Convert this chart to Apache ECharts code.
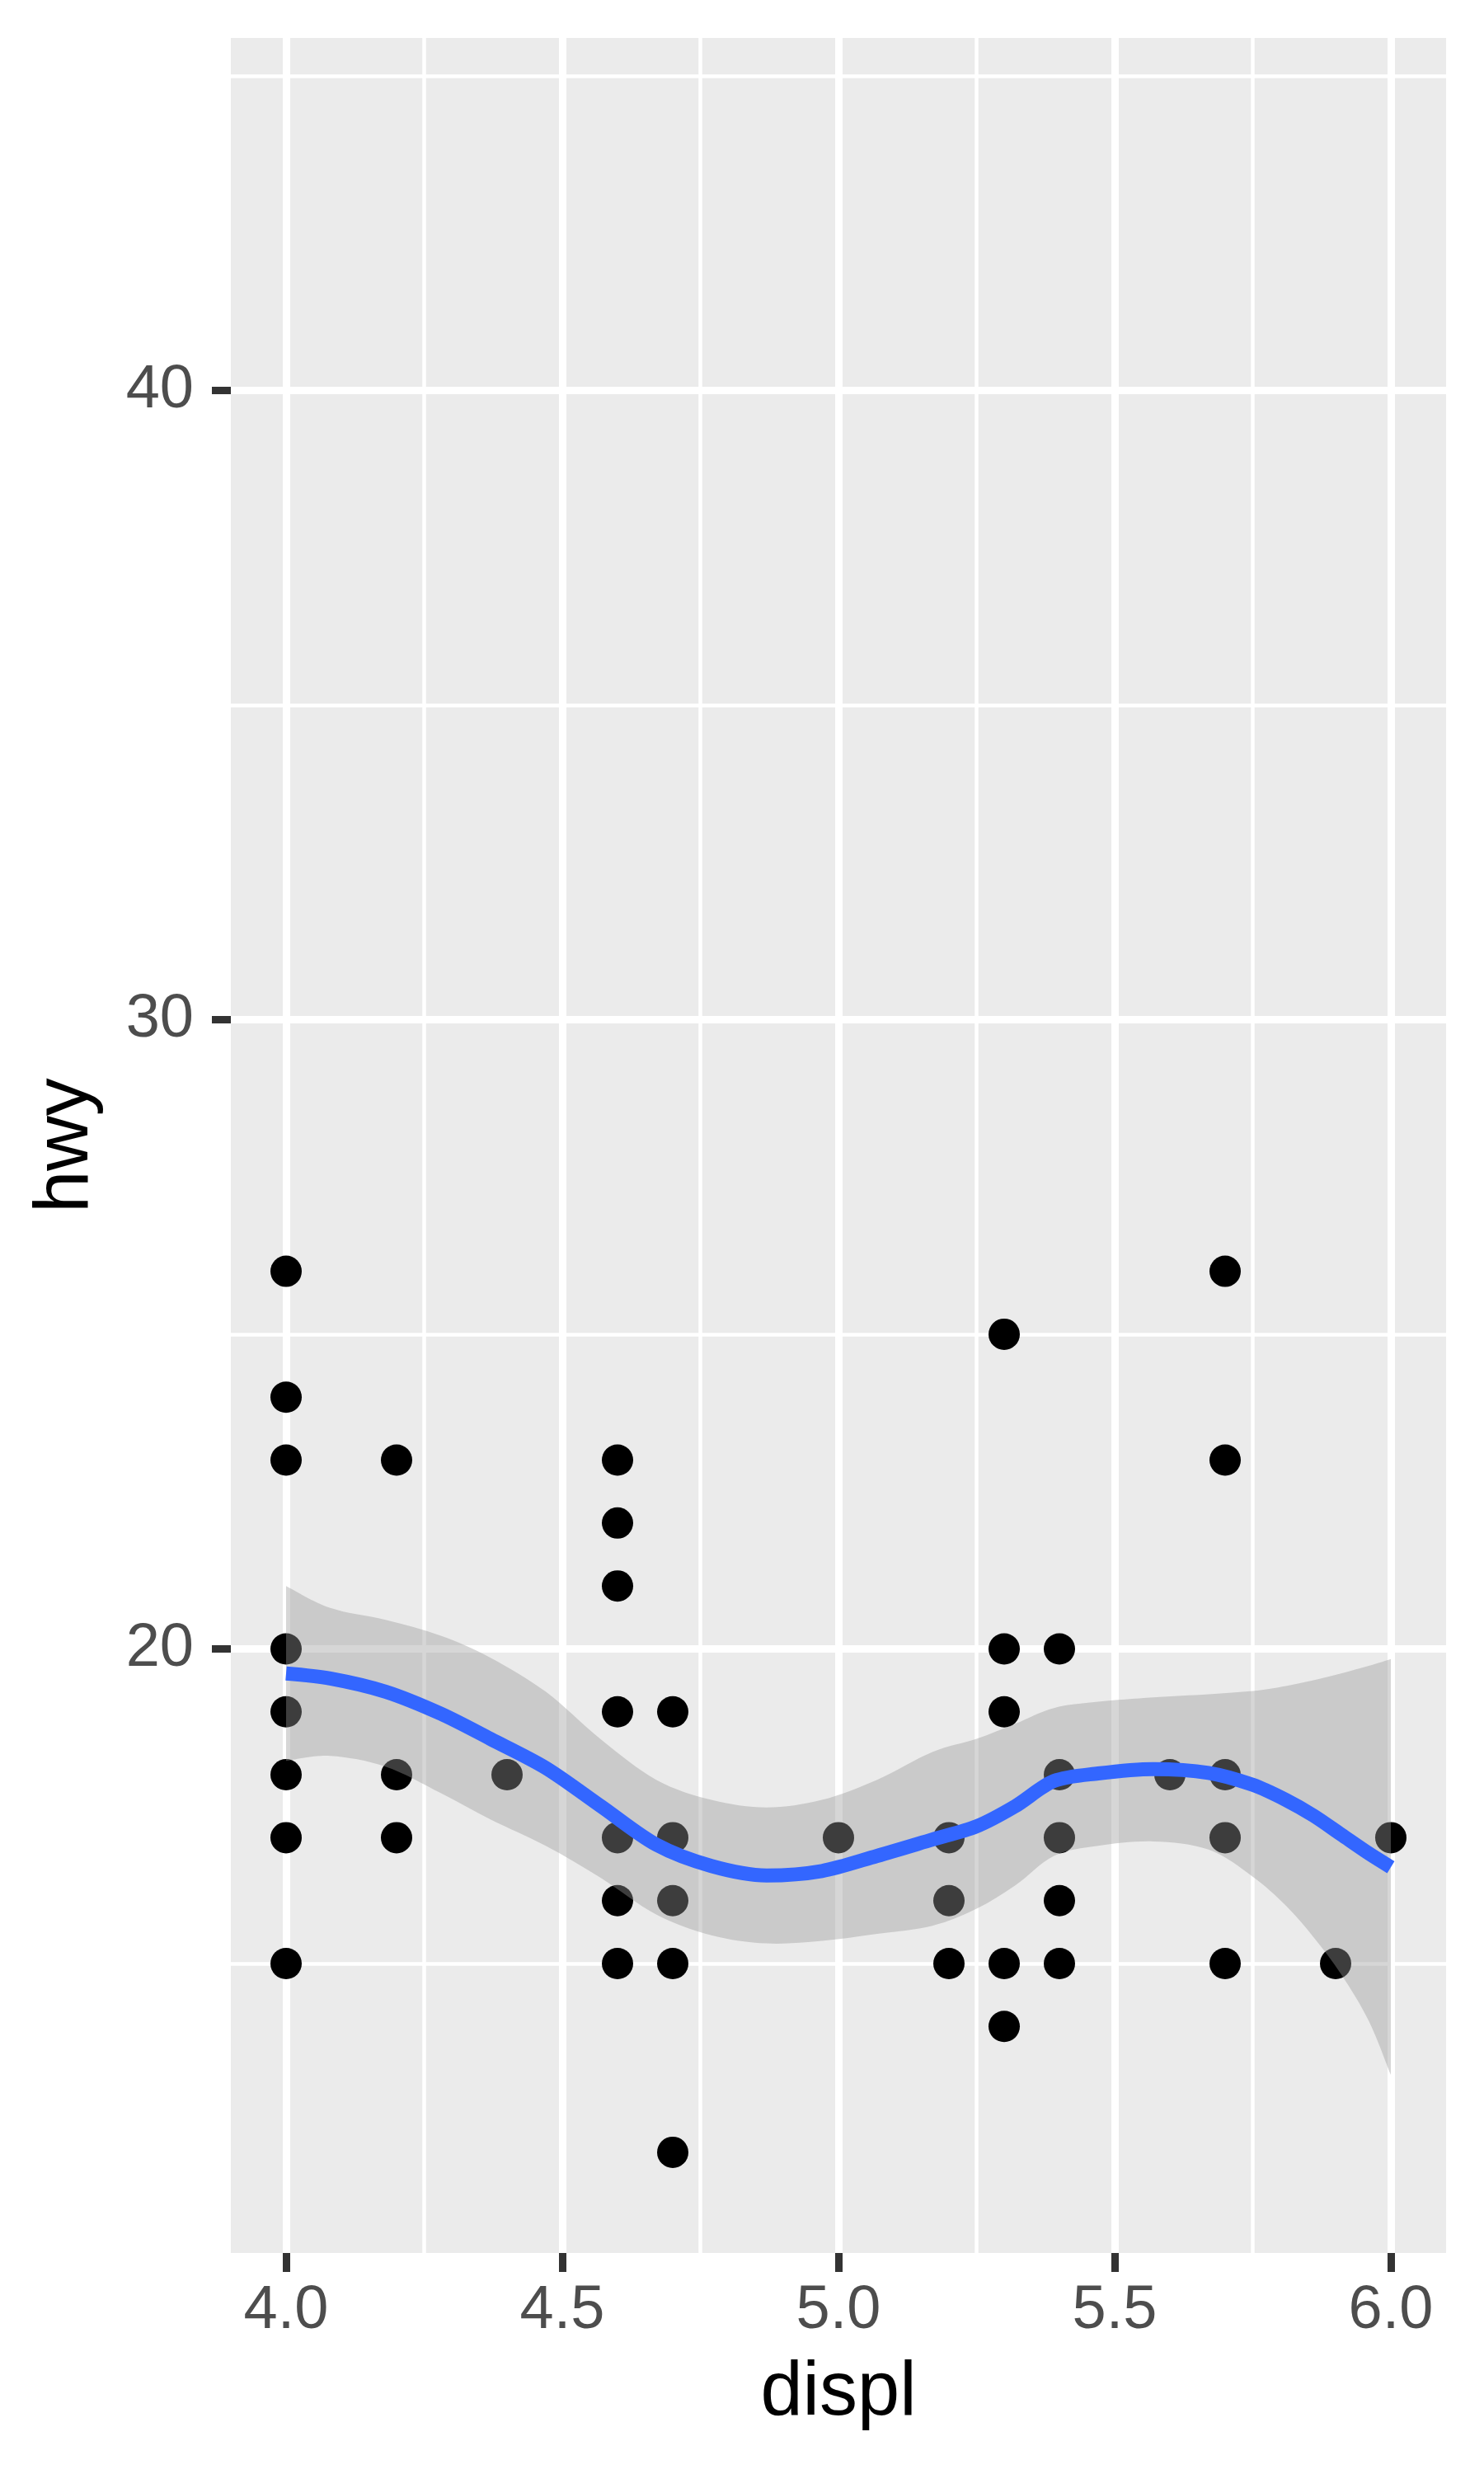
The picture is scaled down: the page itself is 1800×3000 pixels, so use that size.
<!DOCTYPE html>
<html>
<head>
<meta charset="utf-8">
<script src="https://cdn.jsdelivr.net/npm/echarts@6/dist/echarts.min.js"></script>
<style>
html,body{margin:0;padding:0;background:#ffffff;}
#chart{width:1800px;height:3000px;}
</style>
</head>
<body>
<div id="chart"></div>
<script>
// ---- axis ticks ----
const xTicks = [4.0, 4.5, 5.0, 5.5, 6.0];
const xMinor = [4.25, 4.75, 5.25, 5.75];
const yTicks = [20, 30, 40];
const yMinor = [15, 25, 35, 45];

// ---- points (displ, hwy) ----
const displ = [
  4.0, 4.0, 4.0, 4.0, 4.0, 4.0, 4.0, 4.0,
  4.2, 4.2, 4.2,
  4.4,
  4.6, 4.6, 4.6, 4.6, 4.6, 4.6, 4.6,
  4.7, 4.7, 4.7, 4.7, 4.7,
  5.0,
  5.2, 5.2, 5.2,
  5.3, 5.3, 5.3, 5.3, 5.3,
  5.4, 5.4, 5.4, 5.4, 5.4,
  5.6,
  5.7, 5.7, 5.7, 5.7, 5.7,
  5.9,
  6.0
];
const hwy = [
  26, 24, 23, 20, 19, 18, 17, 15,
  23, 18, 17,
  18,
  23, 22, 21, 19, 17, 16, 15,
  19, 17, 16, 15, 12,
  17,
  17, 16, 15,
  25, 20, 19, 15, 14,
  20, 18, 17, 16, 15,
  18,
  26, 23, 18, 17, 15,
  15,
  17
];

// ---- smooth fit and confidence band ----
const fitX  = [4.00, 4.08, 4.18, 4.28, 4.37, 4.47, 4.57, 4.67, 4.77, 4.87, 4.97, 5.07, 5.17, 5.25, 5.32, 5.39, 5.47, 5.57, 5.67, 5.75, 5.81, 5.86, 5.91, 5.96, 6.00];
const fitY  = [19.61, 19.53, 19.32, 18.97, 18.57, 18.11, 17.50, 16.89, 16.55, 16.40, 16.47, 16.71, 16.97, 17.18, 17.50, 17.90, 18.02, 18.09, 18.03, 17.84, 17.60, 17.35, 17.05, 16.75, 16.53];
const fitHi = [21.00, 20.65, 20.46, 20.21, 19.86, 19.32, 18.56, 17.92, 17.60, 17.48, 17.60, 17.92, 18.36, 18.57, 18.81, 19.06, 19.16, 19.23, 19.28, 19.33, 19.41, 19.50, 19.61, 19.73, 19.84];
const fitLo = [18.22, 18.30, 18.13, 17.71, 17.29, 16.87, 16.36, 15.78, 15.45, 15.32, 15.36, 15.47, 15.60, 15.87, 16.24, 16.71, 16.87, 16.94, 16.81, 16.38, 15.92, 15.42, 14.83, 14.09, 13.23];

const FONT = 'Liberation Sans, Arial, Helvetica, sans-serif';
const chart = echarts.init(document.getElementById('chart'), null, {renderer: 'canvas'});

// Catmull-Rom curve through screen points (drawing helper only)
function curveThrough(pts) {
  let d = '';
  for (let i = 0; i < pts.length - 1; i++) {
    const p0 = pts[Math.max(i - 1, 0)], p1 = pts[i], p2 = pts[i + 1], p3 = pts[Math.min(i + 2, pts.length - 1)];
    const c1x = p1[0] + (p2[0] - p0[0]) / 6, c1y = p1[1] + (p2[1] - p0[1]) / 6;
    const c2x = p2[0] - (p3[0] - p1[0]) / 6, c2y = p2[1] - (p3[1] - p1[1]) / 6;
    d += ' C' + c1x + ',' + c1y + ' ' + c2x + ',' + c2y + ' ' + p2[0] + ',' + p2[1];
  }
  return d;
}

const option = {
  animation: false,
  backgroundColor: '#ffffff',
  textStyle: {fontFamily: FONT},
  grid: {
    left: 280, top: 46, width: 1474, height: 2686,
    show: true, backgroundColor: '#EBEBEB', borderWidth: 0,
    containLabel: false, outerBoundsMode: 'none'
  },
  xAxis: [
    {
      type: 'value', min: 3.9, max: 6.1, position: 'bottom',
      axisLine: {show: false},
      axisTick: {show: true, length: 23, customValues: xTicks, lineStyle: {color: '#333333', width: 9}},
      axisLabel: {customValues: xTicks, formatter: v => v.toFixed(1), margin: 34, fontSize: 74, color: '#4D4D4D', fontFamily: FONT},
      splitLine: {show: true, lineStyle: {color: '#ffffff', width: 9}},
      name: 'displ', nameLocation: 'middle', nameGap: 125,
      nameTextStyle: {fontSize: 92, color: '#000000', fontFamily: FONT}
    },
    {
      type: 'value', min: 3.9, max: 6.1, position: 'bottom',
      axisLine: {show: false},
      axisTick: {show: false, customValues: xMinor},
      axisLabel: {show: false, customValues: xMinor},
      splitLine: {show: true, lineStyle: {color: '#ffffff', width: 4.5}}
    }
  ],
  yAxis: [
    {
      type: 'value', min: 10.4, max: 45.6, position: 'left',
      axisLine: {show: false},
      axisTick: {show: true, length: 23, customValues: yTicks, lineStyle: {color: '#333333', width: 9}},
      axisLabel: {customValues: yTicks, margin: 45, fontSize: 74, color: '#4D4D4D', fontFamily: FONT},
      splitLine: {show: true, lineStyle: {color: '#ffffff', width: 9}},
      name: 'hwy', nameLocation: 'middle', nameRotate: 90, nameGap: 153,
      nameTextStyle: {fontSize: 92, color: '#000000', fontFamily: FONT}
    },
    {
      type: 'value', min: 10.4, max: 45.6, position: 'left',
      axisLine: {show: false},
      axisTick: {show: false, customValues: yMinor},
      axisLabel: {show: false, customValues: yMinor},
      splitLine: {show: true, lineStyle: {color: '#ffffff', width: 4.5}}
    }
  ],
  series: [
    {
      type: 'scatter', xAxisIndex: 0, yAxisIndex: 0, z: 2, silent: true,
      symbol: 'circle', symbolSize: 38,
      itemStyle: {color: '#000000', opacity: 1},
      data: displ.map((x, i) => [x, hwy[i]])
    },
    {
      type: 'custom', xAxisIndex: 0, yAxisIndex: 0, z: 3, silent: true,
      data: fitX.map((x, i) => [x, fitLo[i], fitHi[i]]),
      encode: {x: 0, y: [1, 2]},
      renderItem: function (params, api) {
        if (params.dataIndex !== 0) return null;
        const top = fitX.map((x, i) => api.coord([x, fitHi[i]]));
        const bot = fitX.map((x, i) => api.coord([x, fitLo[i]])).reverse();
        const d = 'M' + top[0][0] + ',' + top[0][1] + curveThrough(top) +
                  ' L' + bot[0][0] + ',' + bot[0][1] + curveThrough(bot) + ' Z';
        return {
          type: 'path',
          shape: {pathData: d},
          style: {fill: 'rgba(153,153,153,0.4)', stroke: null}
        };
      }
    },
    {
      type: 'line', xAxisIndex: 0, yAxisIndex: 0, z: 4, silent: true,
      smooth: 0.3, showSymbol: false, symbol: 'none',
      lineStyle: {color: '#3366FF', width: 17},
      data: fitX.map((x, i) => [x, fitY[i]])
    }
  ]
};
chart.setOption(option);
</script>
</body>
</html>
